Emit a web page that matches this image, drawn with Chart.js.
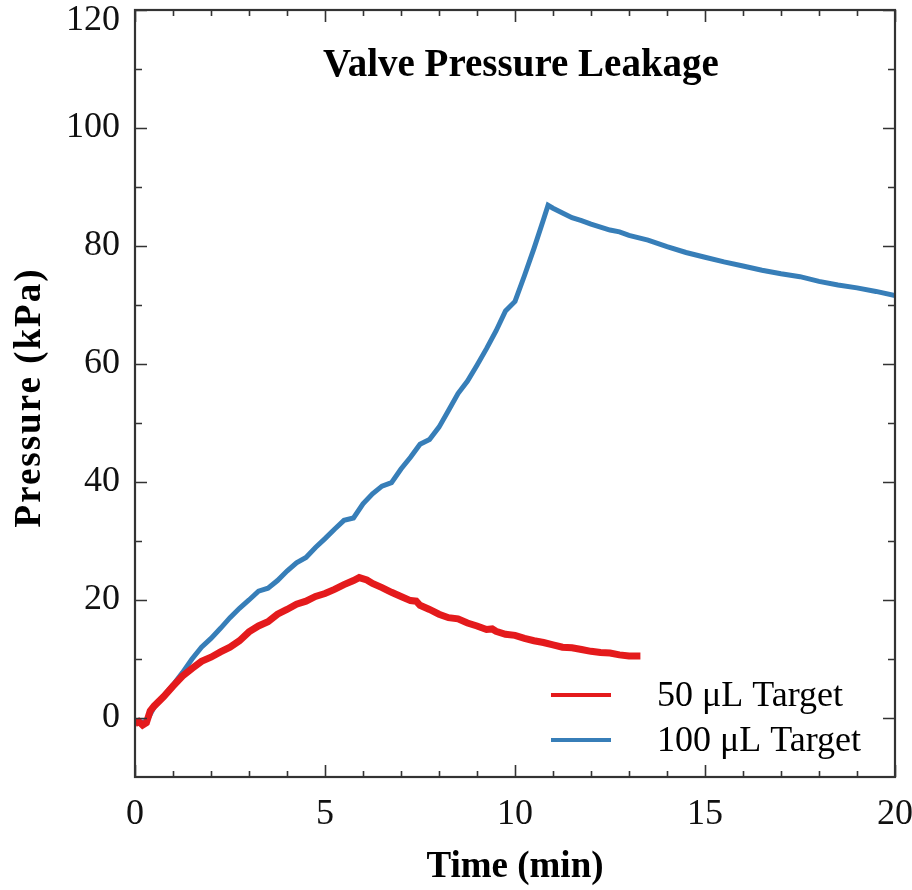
<!DOCTYPE html>
<html>
<head>
<meta charset="utf-8">
<title>Valve Pressure Leakage</title>
<script src="https://cdn.jsdelivr.net/npm/chart.js@4.4.1/dist/chart.umd.min.js"></script>
<style>
    body { margin: 0; background: #fff; }
    #myChart { display: block; }
</style>
</head>
<body>
<canvas id="myChart" width="912" height="890"></canvas>
<script>
// 50 uL target run
var time50 = [0, 0.1, 0.2, 0.3, 0.4, 0.5, 0.75, 1.0, 1.25, 1.5, 1.75, 2.0, 2.25, 2.5, 2.75, 3.0, 3.25, 3.5, 3.75, 4.0,
    4.25, 4.5, 4.75, 5.0, 5.25, 5.5, 5.75, 5.9, 6.1, 6.25, 6.5, 6.75, 7.0, 7.25, 7.4, 7.5, 7.75, 8.0, 8.25, 8.5, 8.75,
    9.0, 9.25, 9.4, 9.5, 9.75, 10.0, 10.25, 10.5, 10.75, 11.0, 11.25, 11.5, 11.75, 12.0, 12.25, 12.5, 12.75, 13.0, 13.3];
var pressure50 = [-1.0, -0.6, -1.2, -0.8, 1.2, 2.0, 3.6, 5.4, 7.1, 8.4, 9.6, 10.3, 11.2, 12.0, 13.1, 14.6, 15.6, 16.3, 17.6, 18.4,
    19.3, 19.8, 20.6, 21.1, 21.8, 22.6, 23.3, 23.8, 23.4, 22.8, 22.1, 21.3, 20.6, 19.9, 19.8, 19.1, 18.4, 17.6, 17.0, 16.8, 16.1,
    15.6, 15.0, 15.1, 14.7, 14.2, 14.0, 13.5, 13.1, 12.8, 12.4, 12.0, 11.9, 11.6, 11.3, 11.1, 11.0, 10.7, 10.5, 10.5];

// 100 uL target run
var time100 = [0, 0.3, 0.5, 0.75, 1.0, 1.25, 1.5, 1.75, 2.0, 2.25, 2.5, 2.75, 3.0, 3.25, 3.5, 3.75, 4.0, 4.25, 4.5, 4.75,
    5.0, 5.25, 5.5, 5.75, 6.0, 6.25, 6.5, 6.75, 7.0, 7.25, 7.5, 7.75, 8.0, 8.25, 8.5, 8.75, 9.0, 9.25, 9.5, 9.75,
    10.0, 10.25, 10.5, 10.75, 10.87, 11.0, 11.25, 11.5, 11.75, 12.0, 12.25, 12.5, 12.75, 13.0, 13.5, 14.0, 14.5, 15.0, 15.5, 16.0,
    16.5, 17.0, 17.5, 18.0, 18.5, 19.0, 19.5, 20.0];
var pressure100 = [-0.8, -0.6, 1.8, 3.7, 5.6, 7.7, 10.0, 12.0, 13.5, 15.2, 17.0, 18.6, 20.0, 21.5, 22.0, 23.3, 24.9, 26.3, 27.2, 28.9,
    30.4, 32.0, 33.5, 33.9, 36.3, 38.0, 39.3, 39.9, 42.2, 44.2, 46.4, 47.2, 49.3, 52.1, 55.0, 57.1, 59.8, 62.6, 65.6, 69.0,
    70.6, 75.0, 79.6, 84.5, 86.9, 86.4, 85.6, 84.8, 84.3, 83.7, 83.2, 82.7, 82.4, 81.8, 81.0, 79.9, 78.9, 78.1, 77.3, 76.6,
    75.9, 75.3, 74.8, 74.0, 73.4, 72.9, 72.3, 71.6];

var xTicks = [0, 5, 10, 15, 20];
var yTicks = [0, 20, 40, 60, 80, 100, 120];
var seriesNames = ['50 \u03bcL Target', '100 \u03bcL Target'];
var chartTitle = 'Valve Pressure Leakage';
var yTitle = 'Pressure (kPa)';

var red = 'rgb(228, 26, 28)';
var blue = 'rgb(55, 126, 184)';
var serif = "'Liberation Serif', 'Times New Roman', serif";

function toPoints(xs, ys) {
    var pts = [];
    for (var i = 0; i < xs.length; i++) {
        pts.push({ x: xs[i], y: ys[i] });
    }
    return pts;
}

// frame with inward ticks on all four sides, title, y title and legend
var frame = {
    id: 'frame',
    afterDatasetsDraw: function (chart) {
        var ctx = chart.ctx;
        var a = chart.chartArea;
        var xs = chart.scales.x;
        var ys = chart.scales.y;
        ctx.save();
        ctx.strokeStyle = '#333';
        ctx.lineWidth = 1.6;
        ctx.beginPath();
        for (var t = xs.min; t <= xs.max; t += 1) {
            var px = Math.round(xs.getPixelForValue(t)) + 0.5;
            var len = t % 5 === 0 ? 12 : 6;
            ctx.moveTo(px, a.bottom); ctx.lineTo(px, a.bottom - len);
            ctx.moveTo(px, a.top); ctx.lineTo(px, a.top + len);
        }
        for (var v = 0; v <= ys.max; v += 10) {
            var py = Math.round(ys.getPixelForValue(v)) + 0.5;
            var l2 = v % 20 === 0 ? 12 : 7;
            ctx.moveTo(a.left, py); ctx.lineTo(a.left + l2, py);
            ctx.moveTo(a.right, py); ctx.lineTo(a.right - l2, py);
        }
        ctx.stroke();
        ctx.lineWidth = 2.2;
        ctx.strokeRect(a.left, a.top, a.right - a.left, a.bottom - a.top);

        ctx.fillStyle = '#000';
        ctx.font = 'bold 39px ' + serif;
        ctx.textAlign = 'center';
        ctx.textBaseline = 'middle';
        ctx.fillText(chartTitle, 521, 66);

        // y axis title, a little spaced out
        ctx.save();
        ctx.translate(30, (a.top + a.bottom) / 2 + 4);
        ctx.rotate(-Math.PI / 2);
        ctx.font = 'bold 37px ' + serif;
        ctx.letterSpacing = '2px';
        ctx.fillText(yTitle, 0, 0);
        ctx.restore();

        var colors = [red, blue];
        var rows = [695, 740];
        ctx.font = '36px ' + serif;
        ctx.textAlign = 'left';
        for (var i = 0; i < seriesNames.length; i++) {
            ctx.strokeStyle = colors[i];
            ctx.lineWidth = 4;
            ctx.beginPath();
            ctx.moveTo(551, rows[i]);
            ctx.lineTo(611, rows[i]);
            ctx.stroke();
            ctx.fillText(seriesNames[i], 657, rows[i] + 2);
        }
        ctx.restore();
    }
};

var ctx = document.getElementById('myChart').getContext('2d');
var myChart = new Chart(ctx, {
    type: 'line',
    data: {
        datasets: [{
            label: seriesNames[0],
            data: toPoints(time50, pressure50),
            borderColor: red,
            borderWidth: 7,
            borderJoinStyle: 'miter',
            pointRadius: 0,
            tension: 0
        }, {
            label: seriesNames[1],
            data: toPoints(time100, pressure100),
            borderColor: blue,
            borderWidth: 5,
            pointRadius: 0,
            tension: 0
        }]
    },
    options: {
        responsive: false,
        animation: false,
        layout: { padding: { top: 10, right: 17, left: 0, bottom: 0 } },
        plugins: {
            legend: { display: false },
            tooltip: { enabled: false }
        },
        scales: {
            x: {
                type: 'linear',
                min: 0,
                max: 20,
                grid: { display: false, drawTicks: false },
                border: { display: false },
                afterBuildTicks: function (scale) {
                    scale.ticks = xTicks.map(function (v) { return { value: v }; });
                },
                afterFit: function (scale) {
                    scale.height = 113;
                    scale.paddingLeft = 0;
                    scale.paddingRight = 0;
                },
                ticks: {
                    color: '#111',
                    padding: 16,
                    maxRotation: 0,
                    font: { family: serif, size: 36 }
                },
                title: {
                    display: true,
                    text: 'Time (min)',
                    color: '#000',
                    padding: { top: 0, bottom: 0 },
                    font: { family: serif, size: 37, weight: 'bold' }
                }
            },
            y: {
                min: -10,
                max: 120,
                grid: { display: false, drawTicks: false },
                border: { display: false },
                afterBuildTicks: function (scale) {
                    scale.ticks = yTicks.map(function (v) { return { value: v }; });
                },
                afterFit: function (scale) {
                    scale.width = 135;
                    scale.paddingTop = 0;
                    scale.paddingBottom = 0;
                },
                ticks: {
                    color: '#111',
                    padding: 15,
                    // top label sits just under the frame edge
                    callback: function (value) {
                        return value === 120 ? ['', '120'] : String(value);
                    },
                    font: function (c) {
                        if (c.tick && c.tick.value === 120) {
                            return { family: serif, size: 36, lineHeight: '22px' };
                        }
                        return { family: serif, size: 36 };
                    }
                },
                title: { display: false }
            }
        }
    },
    plugins: [frame]
});
</script>
</body>
</html>
